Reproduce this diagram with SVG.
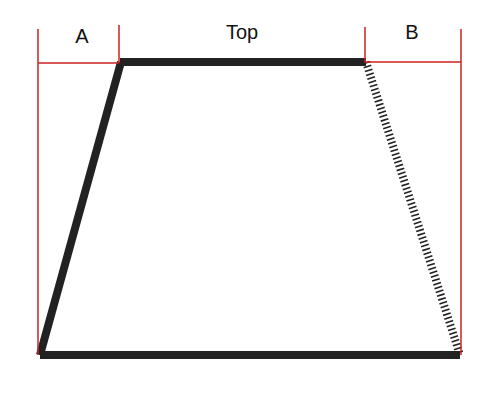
<svg xmlns="http://www.w3.org/2000/svg" width="500" height="400" viewBox="0 0 500 400">
<style>
.dim{stroke:#cc2222;stroke-width:1.5;fill:none}
.edge{stroke:#222;stroke-width:8;fill:none;stroke-linecap:butt}
.dash{stroke:#222;stroke-width:8;fill:none;stroke-dasharray:1.6 2.4}
.lbl{font-family:"Liberation Sans",Arial,sans-serif;font-size:20px;fill:#111;text-anchor:middle}
</style>
<rect width="500" height="400" fill="#fff"/>
<g id="edges">
<line class="edge" x1="120" y1="62" x2="366" y2="62"/>
<line class="edge" x1="121" y1="62" x2="40" y2="355"/>
<line class="edge" x1="40" y1="355" x2="460" y2="355"/>
<line class="dash" x1="366" y1="62" x2="460" y2="355"/>
</g>
<g id="dimensions">
<line class="dim" x1="38" y1="29" x2="38" y2="355"/>
<line class="dim" x1="119" y1="25" x2="119" y2="63"/>
<line class="dim" x1="38" y1="63" x2="119" y2="63"/>
<line class="dim" x1="365" y1="27" x2="365" y2="63"/>
<line class="dim" x1="461" y1="29" x2="461" y2="355"/>
<line class="dim" x1="365" y1="62" x2="461" y2="62"/>
</g>
<g id="labels">
<text class="lbl" x="82" y="43">A</text>
<text class="lbl" x="242" y="39">Top</text>
<text class="lbl" x="412" y="39">B</text>
</g>
</svg>
